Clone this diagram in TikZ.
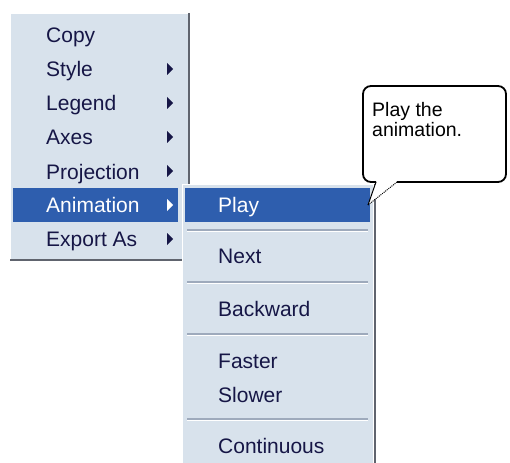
\documentclass[tikz,border=0pt]{standalone}
\usepackage{fontspec}
\setmainfont{Liberation Sans}
\usepackage{xcolor}
\usepackage{tikz}
\usetikzlibrary{positioning}
\definecolor{menubg}{RGB}{216,226,236}
\definecolor{menusel}{RGB}{46,94,174}
\definecolor{menutext}{RGB}{22,22,70}
\definecolor{menusep}{RGB}{158,170,188}
\definecolor{menushadow}{RGB}{96,100,110}

\begin{document}
\begin{tikzpicture}[
  x=1pt, y=-1pt,
  item/.style={anchor=base west, inner sep=0pt, text=menutext,
    font=\fontsize{21}{24}\selectfont},
  selitem/.style={item, text=white},
  submark/.style={fill=menutext},
  selmark/.style={fill=white},
  sepline/.style={draw=menusep, line width=1.5pt},
  sepglow/.style={draw=white, line width=1pt},
  shadowline/.style={draw=menushadow, line width=2pt},
  edgeline/.style={draw=white, line width=1pt},
  balloon/.style={draw=black, line width=1.8pt, rounded corners=8pt},
  tailline/.style={draw=black, line width=1pt},
  tiptext/.style={anchor=north west, inner sep=0pt, align=left,
    font=\fontsize{19.5}{20}\selectfont, text=black}
]
  \useasboundingbox (0,0) rectangle (510,462);
  \clip (0,0) rectangle (510,462);

  % main menu
  \fill[menubg] (10,13) rectangle (188,259);
  \draw[shadowline] (189,13) -- (189,260) -- (10,260);
  \draw[edgeline] (10.5,259) -- (10.5,13.5) -- (188,13.5);
  \fill[menusel] (13,188) rectangle (178,222);

  \node[item] (copy)       at (46,43)  {Copy};
  \node[item] (style)      at (46,77)  {Style};
  \node[item] (legend)     at (46,111) {Legend};
  \node[item] (axes)       at (46,145) {Axes};
  \node[item] (projection) at (46,179) {Projection};
  \node[selitem] (animation) at (46,212) {Animation};
  \node[item] (export)     at (46,246) {Export As};

  \foreach \y in {69,103,137,171,239}
    \fill[submark] (167,\y-6) -- (173,\y) -- (167,\y+6) -- cycle;
  \fill[selmark] (167,199) -- (173,205) -- (167,211) -- cycle;

  % sub menu
  \fill[menubg] (182,184) rectangle (373,470);
  \draw[shadowline] (375,184) -- (375,470);
  \draw[edgeline] (182.5,470) -- (182.5,184.5) -- (373,184.5);
  \fill[menusel] (185,188) rectangle (370,222);

  \node[selitem] (play)    at (218,212) {Play};
  \node[item] (next)       at (218,263) {Next};
  \node[item] (backward)   at (218,316) {Backward};
  \node[item] (faster)     at (218,368) {Faster};
  \node[item] (slower)     at (218,402) {Slower};
  \node[item] (continuous) at (218,453) {Continuous};

  \foreach \y in {230,282,334,419} {
    \draw[sepline] (187,\y) -- (368,\y);
    \draw[sepglow] (187,\y+1.5) -- (368,\y+1.5);
  }

  % tip balloon
  \coordinate (tailL) at (376,182);
  \coordinate (tailR) at (397,182);
  \coordinate (tip) at (368,205);
  \fill[white] (tailL) -- (tip) -- (tailR) -- cycle;
  \fill[white, rounded corners=8pt] (363,86) rectangle (506,182);
  \draw[balloon] (tailL) -- (363,182) -- (363,86) -- (506,86) -- (506,182) -- (tailR);
  \node[tiptext] (tipnote) at (372,102) {Play the\\animation.};
  \draw[tailline] (tailL) -- (tip);
  \draw[tailline, densely dotted] (tip) -- (tailR);
\end{tikzpicture}
\end{document}
